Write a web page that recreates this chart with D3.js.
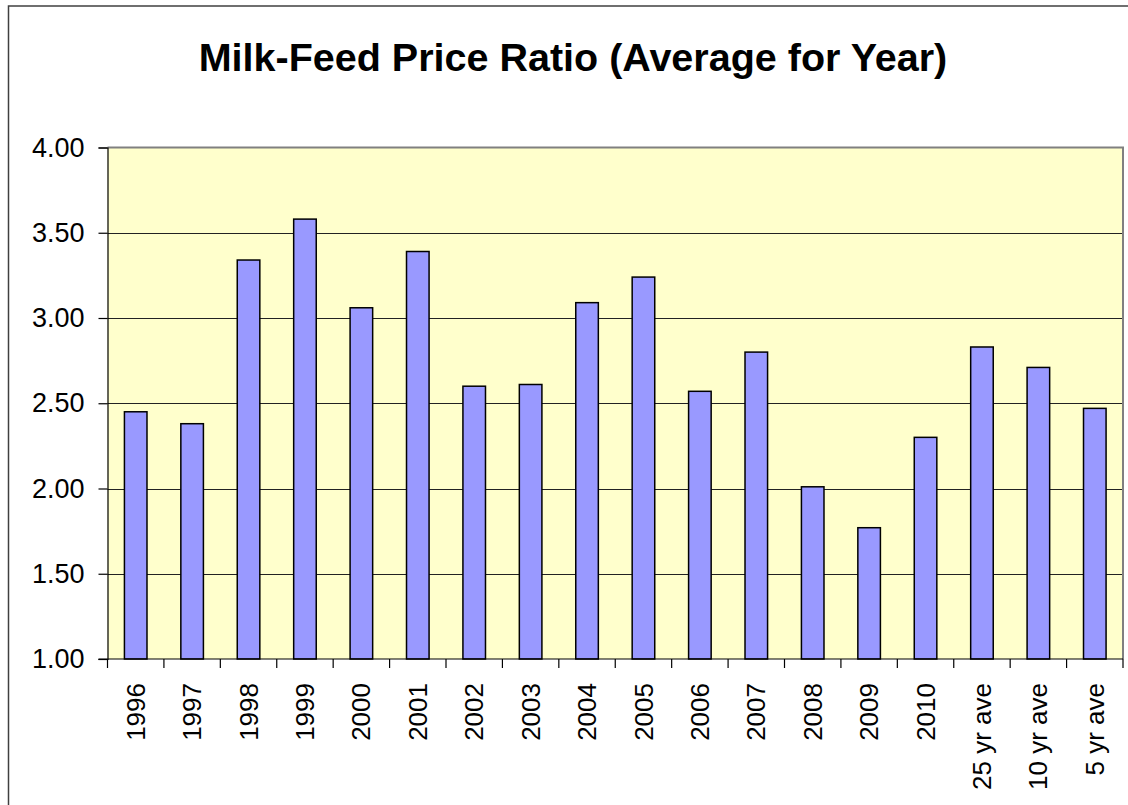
<!DOCTYPE html>
<html>
<head>
<meta charset="utf-8">
<script src="https://cdn.jsdelivr.net/npm/d3@7"></script>
<style>
	body { margin: 0; background: #fff; }
	svg { display: block; }
</style>
</head>
<body>
<div id="chart"></div>
<script>

// chart data
var categories = ["1996","1997","1998","1999","2000","2001","2002","2003","2004","2005",
	"2006","2007","2008","2009","2010","25 yr ave","10 yr ave","5 yr ave"];
var ratioValues = [2.45, 2.38, 3.34, 3.58, 3.06, 3.39, 2.60, 2.61, 3.09, 3.24,
	2.57, 2.80, 2.01, 1.77, 2.30, 2.83, 2.71, 2.47];
var yTicks = [1.00, 1.50, 2.00, 2.50, 3.00, 3.50, 4.00];
var chartTitle = "Milk-Feed Price Ratio (Average for Year)";


var width = 1128, height = 805;
var plot = { left: 107.5, right: 1123, top: 147.5, bottom: 659 };
var fontFamily = "Arial, 'Liberation Sans', sans-serif";

var svg = d3.select("#chart").append("svg")
	.attr("width", width)
	.attr("height", height);

// outer chart frame (runs off the right and bottom of the picture)
svg.append("rect")
	.attr("x", 8.5)
	.attr("y", 6)
	.attr("width", 1200)
	.attr("height", 1000)
	.attr("fill", "#fff")
	.attr("stroke", "#404040")
	.attr("stroke-width", 1.5);

svg.append("text")
	.attr("x", 573)
	.attr("y", 71)
	.attr("text-anchor", "middle")
	.style("font-family", fontFamily)
	.style("font-weight", "bold")
	.style("font-size", "39.5px")
	.text(chartTitle);


var x = d3.scaleBand()
	.domain(categories)
	.range([plot.left, plot.right])
	.paddingInner(0.6)
	.paddingOuter(0.3);

var y = d3.scaleLinear()
	.domain([1, 4])
	.range([plot.bottom, plot.top]);

// plot area background
svg.append("rect")
	.attr("x", plot.left)
	.attr("y", plot.top)
	.attr("width", plot.right - plot.left)
	.attr("height", plot.bottom - plot.top)
	.attr("fill", "#FFFFCC");

// gridlines
svg.append("g")
	.selectAll("line")
	.data(yTicks.filter(function(d) { return d > 1 && d < 4; }))
	.enter()
	.append("line")
	.attr("x1", plot.left)
	.attr("x2", plot.right)
	.attr("y1", function(d) { return Math.round(y(d)) + 0.5; })
	.attr("y2", function(d) { return Math.round(y(d)) + 0.5; })
	.attr("stroke", "#222")
	.attr("stroke-width", 1.2);

// gray top and right border of the plot
svg.append("path")
	.attr("d", "M" + plot.left + "," + plot.top + "H" + plot.right + "V" + plot.bottom)
	.attr("fill", "none")
	.attr("stroke", "#808080")
	.attr("stroke-width", 2);

// bars
svg.append("g")
	.selectAll(".bar")
	.data(ratioValues)
	.enter()
	.append("rect")
	.attr("class", "bar")
	.attr("x", function(d, i) { return x(categories[i]); })
	.attr("y", function(d) { return y(d); })
	.attr("width", x.bandwidth())
	.attr("height", function(d) { return y(1) - y(d); })
	.attr("fill", "#9999FF")
	.attr("stroke", "#000")
	.attr("stroke-width", 1.5);


// y axis
var yAxis = d3.axisLeft(y)
	.tickValues(yTicks)
	.tickSize(9)
	.tickPadding(14)
	.tickFormat(d3.format(".2f"));

var gy = svg.append("g")
	.attr("transform", "translate(" + plot.left + ",0)")
	.call(yAxis);
gy.selectAll("path, line").attr("stroke", "#000").attr("stroke-width", 1.2);
gy.selectAll("text")
	.style("font-family", fontFamily)
	.style("font-size", "27px")
	.attr("fill", "#000");

// x axis: ticks between categories
var gx = svg.append("g")
	.attr("transform", "translate(0," + plot.bottom + ")");

gx.append("line")
	.attr("x1", plot.left - 9)
	.attr("x2", plot.right)
	.attr("stroke", "#000")
	.attr("stroke-width", 1.2);

gx.selectAll(".tick")
	.data(d3.range(categories.length + 1))
	.enter()
	.append("line")
	.attr("class", "tick")
	.attr("x1", function(i) { return plot.left + i * x.step(); })
	.attr("x2", function(i) { return plot.left + i * x.step(); })
	.attr("y1", 0)
	.attr("y2", 9)
	.attr("stroke", "#000")
	.attr("stroke-width", 1.2);

gx.selectAll(".label")
	.data(categories)
	.enter()
	.append("text")
	.attr("class", "label")
	.attr("transform", function(d) {
		return "translate(" + (x(d) + x.bandwidth() / 2) + ",24) rotate(-90)";
	})
	.attr("dy", "0.35em")
	.attr("text-anchor", "end")
	.style("font-family", fontFamily)
	.style("font-size", "26px")
	.text(function(d) { return d; });

</script>
</body>
</html>
